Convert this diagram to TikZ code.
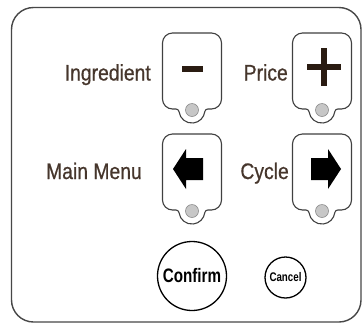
\documentclass[tikz,border=0pt]{standalone}
\usepackage{fontspec}
\newfontfamily\lblfont[FakeStretch=0.86,FakeBold=0.6]{Liberation Sans}
\newfontfamily\btnfont[FakeStretch=0.78]{Liberation Sans}
\definecolor{lbl}{HTML}{46362C}
\definecolor{sym}{HTML}{2A1C12}
\tikzset{
  keypad/.style={draw=black!75, line width=1.1pt, fill=white},
  led/.style={circle, draw=black!45, fill=black!22, line width=0.6pt, minimum size=13pt, inner sep=0pt},
  lbl/.style={font=\lblfont\fontsize{22.5}{22.5}\selectfont, text=lbl, inner sep=0pt, anchor=base east},
  roundbtn/.style={circle, draw=black, line width=1.3pt, inner sep=0pt},
  symfill/.style={fill=sym},
  keybtn/.pic={
    \draw[keypad] (-29.5,-10) -- (-29.5,-66) arc[start angle=180,end angle=270,radius=10pt]
      -- (-16,-76) arc[start angle=90,end angle=7,radius=3pt]
      arc[start angle=187,end angle=353,radius=13pt]
      arc[start angle=173,end angle=90,radius=3pt]
      -- (19.5,-76) arc[start angle=270,end angle=360,radius=10pt]
      -- (29.5,-10) arc[start angle=0,end angle=90,radius=10pt]
      -- (-19.5,0) arc[start angle=90,end angle=180,radius=10pt] -- cycle;
    \node[led] (-led) at (0,-77) {};
  }
}
\begin{document}
\begin{tikzpicture}[x=1pt,y=1pt]
\useasboundingbox (0,0) rectangle (364,-325);
\fill[white] (0,0) rectangle (364,-325);
\draw[line width=1.4pt, draw=black!72, rounded corners=22pt] (11.5,-7.5) rectangle (361,-322);

\pic (kminus) at (192,-33) {keybtn};
\pic (kplus) at (322,-33) {keybtn};
\pic (kleft) at (192,-134) {keybtn};
\pic (kright) at (322,-134) {keybtn};

% symbols
\fill[symfill] (181.5,-66) rectangle (202.5,-72);
\fill[symfill] (307,-64) rectangle (341,-70);
\fill[symfill] (321,-48) rectangle (327,-86);
\fill[black] (173,-169) -- (186,-149) -- (186,-158) -- (203,-158) -- (203,-180) -- (186,-180) -- (186,-189) -- cycle;
\fill[black] (341,-169) -- (328,-149) -- (328,-158) -- (311,-158) -- (311,-180) -- (328,-180) -- (328,-189) -- cycle;

% labels
\node[lbl] (ing) at (151,-80.5) {Ingredient};
\node[lbl] (price) at (288,-80.5) {Price};
\node[lbl] (mainmenu) at (142,-179) {Main Menu};
\node[lbl] (cycle) at (289,-179) {Cycle};

% round buttons
\node[roundbtn, minimum size=69pt, font=\btnfont\bfseries\fontsize{19.5}{19.5}\selectfont] (confirm) at (192,-276) {Confirm};
\node[roundbtn, minimum size=41pt, font=\btnfont\bfseries\fontsize{12.5}{12.5}\selectfont] (cancel) at (285.5,-277.5) {Cancel};
\end{tikzpicture}
\end{document}
